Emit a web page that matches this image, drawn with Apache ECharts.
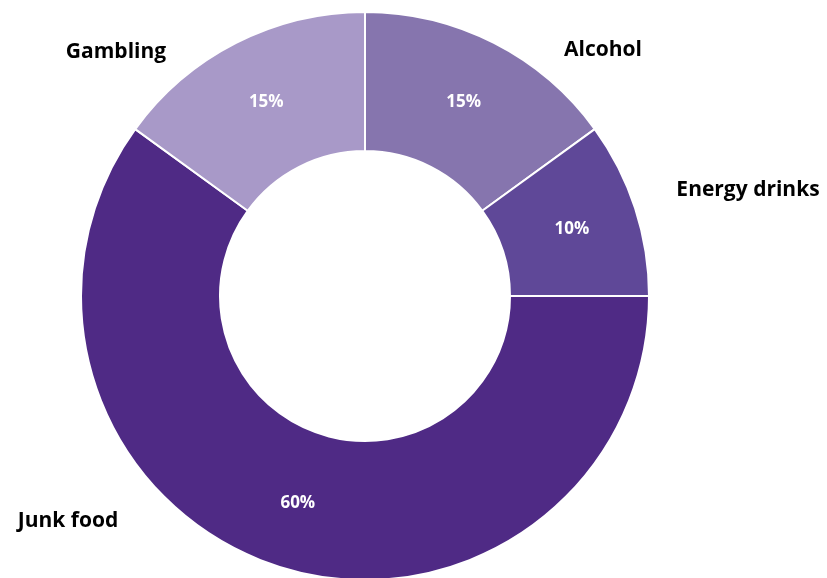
<!DOCTYPE html>
<html>
<head>
<meta charset="utf-8">
<script src="https://cdn.jsdelivr.net/npm/echarts@6/dist/echarts.min.js"></script>
<style>
  html, body { margin: 0; padding: 0; background: #fff; }
  #chart { width: 827px; height: 578px; }
</style>
</head>
<body>
<div id="chart"></div>
<script>
// slices, clockwise from 12 o'clock
var names = ['Alcohol', 'Energy drinks', 'Junk food', 'Gambling'];
var shares = [15, 10, 60, 15];
var colors = ['#8675ae', '#5f4898', '#4f2a85', '#a899c8'];

// where the category names sit (Excel puts them freely round the ring)
var namePos = [[603, 50], [748, 190], [68, 521], [116, 52]];

var data = names.map(function (n, i) {
  return { name: n, value: shares[i], itemStyle: { color: colors[i] } };
});

var myChart = echarts.init(document.getElementById('chart'));
var font = '"Open Sans", Lato, sans-serif';

var option = {
  animation: false,
  series: [
    {
      type: 'pie',
      center: [365, 296],
      radius: [145, 284],
      startAngle: 90,
      clockwise: true,
      itemStyle: { borderColor: '#fff', borderWidth: 2 },
      label: {
        show: true,
        position: 'inside',
        formatter: '{d}%',
        color: '#fff',
        fontFamily: font,
        fontWeight: 'bold',
        fontSize: 17
      },
      labelLine: { show: false },
      emphasis: { disabled: true },
      data: data
    },
    {
      type: 'pie',
      center: [365, 296],
      radius: [145, 284],
      startAngle: 90,
      clockwise: true,
      silent: true,
      itemStyle: { color: 'transparent', borderWidth: 0 },
      label: {
        show: true,
        position: 'outside',
        formatter: '{b}',
        color: '#000',
        fontFamily: font,
        fontWeight: 'bold',
        fontSize: 21,
        overflow: 'none',
        width: 200
      },
      labelLine: { show: false },
      labelLayout: function (p) {
        var pos = namePos[p.dataIndex];
        return { x: pos[0], y: pos[1], align: 'center', verticalAlign: 'middle' };
      },
      data: names.map(function (n, i) { return { name: n, value: shares[i] }; })
    }
  ]
};

option && myChart.setOption(option);
</script>
</body>
</html>
